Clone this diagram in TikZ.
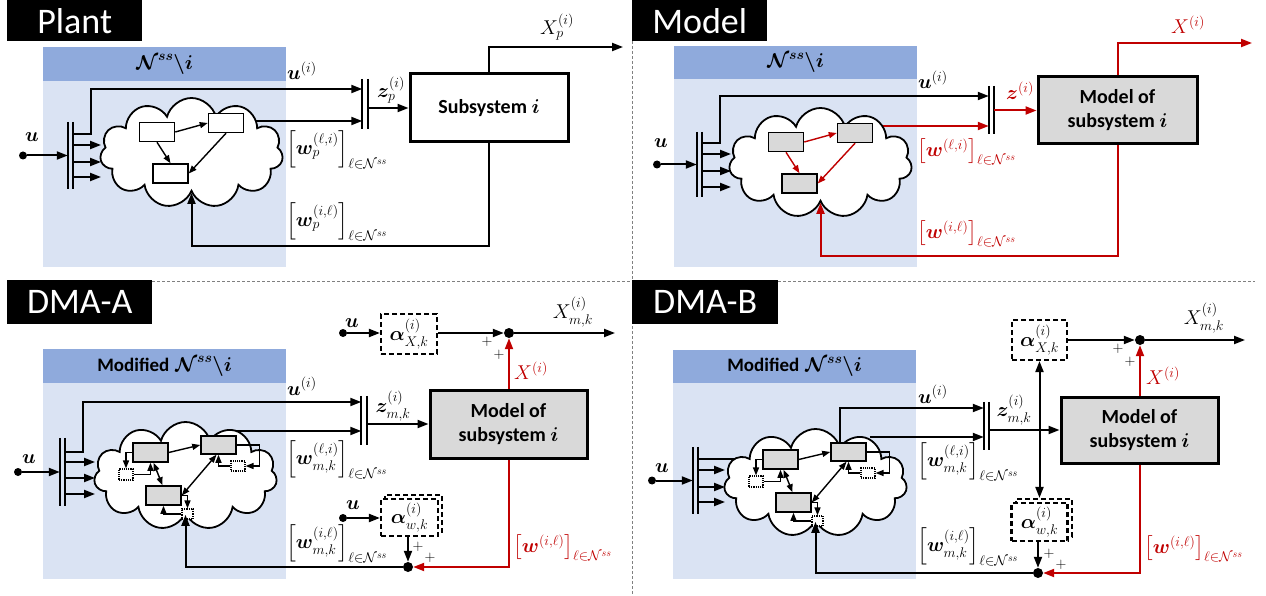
\documentclass[tikz,border=0pt]{standalone}
\usepackage{fix-cm}
\usepackage{amsmath,bm}
\usepackage{fontspec}
\setsansfont{Carlito}
\usetikzlibrary{arrows.meta,shapes.symbols,calc}
\definecolor{myred}{HTML}{C00000}
\definecolor{hdrblue}{HTML}{8FAADC}
\definecolor{bodyblue}{HTML}{DAE3F3}
\definecolor{boxgray}{HTML}{D9D9D9}
\definecolor{divgray}{HTML}{808080}
\newcommand{\titlefont}{\sffamily\fontsize{36}{36}\selectfont}
\newcommand{\boxfont}{\sffamily\bfseries\fontsize{20}{24}\selectfont}
\newcommand{\hdrfont}{\sffamily\bfseries\fontsize{19}{22}\selectfont}
\newcommand{\mathfont}{\fontsize{20}{22}\selectfont}
\newcommand{\plusfont}{\fontsize{15}{15}\selectfont}
\newcommand{\Nss}{\mathcal{N}^{ss}}
\tikzset{
 ln/.style={line width=2pt},
 arr/.style={ln, -{Triangle[length=11pt,width=8pt]}},
 rarr/.style={arr, myred},
 darr/.style={ln, {Triangle[length=11pt,width=8pt]}-{Triangle[length=11pt,width=8pt]}},
 sarr/.style={line width=1.4pt, -{Triangle[length=8pt,width=6pt]}},
 sdarr/.style={line width=1.4pt, {Triangle[length=8pt,width=6pt]}-{Triangle[length=8pt,width=6pt]}},
 ttl/.style={fill=black, text=white, font=\titlefont, inner sep=0pt, anchor=north west},
 panel/.style={fill=bodyblue, inner sep=0pt, anchor=north west},
 panelhdr/.style={fill=hdrblue, inner sep=0pt, anchor=north west, font=\mathfont},
 bigbox/.style={draw, line width=3pt, inner sep=0pt, font=\boxfont, align=center},
 inbox/.style={draw, line width=1.5pt, minimum width=35pt, minimum height=19pt, inner sep=0pt},
 dbox/.style={draw, densely dotted, line width=1.2pt, fill=white, inner sep=0pt},
 abox/.style={draw, dash pattern=on 5pt off 3pt, line width=2.2pt, fill=white, inner sep=0pt, font=\mathfont},
 sumdot/.style={circle, fill, inner sep=0pt, minimum size=10pt},
 indot/.style={circle, fill, inner sep=0pt, minimum size=8pt},
 bus/.style={inner sep=0pt, minimum width=5pt, minimum height=#1},
 lab/.style={font=\mathfont, inner sep=0pt},
 plus/.style={font=\plusfont, inner sep=0pt},
 cloudn/.style={cloud, cloud puffs=11, cloud ignores aspect, draw, line width=1.8pt, fill=white, inner sep=0pt},
 divider/.style={divgray, line width=1pt, dash pattern=on 3pt off 2pt},
}
\newcommand{\topnet}[4]{%
 \begin{scope}[shift={#2}]
  \node[cloudn, minimum width=183pt, minimum height=110pt] (#1-cloud) at (191.5,153) {};
  \node[inbox, fill=#3] (#1-b1) at (157,132) {};
  \node[inbox, fill=#3] (#1-b2) at (226,123) {};
  \node[inbox, fill=#3] (#1-b3) at (170.5,173.5) {};
  \draw[sarr, #4] (#1-b1.east) -- (#1-b2.west);
  \draw[sarr, #4] (#1-b1.south) -- (#1-b3.north);
  \draw[sarr, #4] (#1-b2.south) -- (#1-b3.east);
 \end{scope}}
\newcommand{\dmanet}[2]{%
 \begin{scope}[shift={#2}]
  \node[cloudn, minimum width=183pt, minimum height=108pt] (#1-cloud) at (185.5,476) {};
  \node[inbox, fill=boxgray] (#1-b1) at (150.5,452.5) {};
  \node[inbox, fill=boxgray, minimum height=18pt] (#1-b2) at (218.5,445) {};
  \node[inbox, fill=boxgray] (#1-b3) at (163.5,495.5) {};
  \node[dbox, minimum width=14pt, minimum height=11pt] (#1-d1) at (126,474.5) {};
  \node[dbox, minimum width=14pt, minimum height=10pt] (#1-d2) at (238,466) {};
  \node[dbox, minimum width=11pt, minimum height=10pt] (#1-d3) at (187.5,514) {};
  \draw[sarr] (#1-b1.east) -- (#1-b2.west);
  \draw[sarr] (#1-b1.west) -| (#1-d1.north);
  \draw[sarr] (#1-d1.east) -| (#1-b1.south);
  \draw[sdarr] ($(#1-b1.south)+(3,0)$) -- ($(#1-b3.north)+(-1,0)$);
  \draw[sdarr] ($(#1-b2.south)+(-2,0)$) -- (#1-b3.east);
  \draw[sarr] (#1-b2.east) -- ++(23,0) |- (#1-d2.east);
  \draw[sarr] (#1-d2.west) -| (#1-b2.south);
  \draw[sarr] (#1-b3.east) -| (#1-d3.north);
  \draw[sarr] (#1-d3.west) -| (#1-b3.south);
 \end{scope}}
\begin{document}
\begin{tikzpicture}[x=1pt,y=-1pt]
\useasboundingbox (0,0) rectangle (1266,596);
% dividers
\draw[divider] (632,41) -- (632,596);
\draw[divider] (152,281) -- (632,281);
\draw[divider] (778,281) -- (1255,281);
% titles
\node[ttl, minimum width=135pt, minimum height=41pt] (P-title) at (7,0) {Plant};
\node[ttl, minimum width=135pt, minimum height=41pt] (M-title) at (632,0) {Model};
\node[ttl, minimum width=145pt, minimum height=44pt] (A-title) at (7,280) {DMA-A};
\node[ttl, minimum width=146pt, minimum height=44pt] (B-title) at (632,280) {DMA-B};
% panels
\node[panel, minimum width=243pt, minimum height=220pt] (P-panel) at (43,47) {};
\node[panelhdr, minimum width=243pt, minimum height=34pt] (P-hdr) at (43,47) {$\bm{\Nss\backslash i}$};
\node[panel, minimum width=243pt, minimum height=221pt] (M-panel) at (674,46) {};
\node[panelhdr, minimum width=243pt, minimum height=33pt] (M-hdr) at (674,46) {$\bm{\Nss\backslash i}$};
\node[panel, minimum width=243pt, minimum height=230pt] (A-panel) at (43,349) {};
\node[panelhdr, minimum width=243pt, minimum height=34pt] (A-hdr) at (43,349) {{\hdrfont Modified} $\bm{\Nss\backslash i}$};
\node[panel, minimum width=243pt, minimum height=229pt] (B-panel) at (673,350) {};
\node[panelhdr, minimum width=243pt, minimum height=33pt] (B-hdr) at (673,350) {{\hdrfont Modified} $\bm{\Nss\backslash i}$};

%%%%%%%%%%%%%%%% PLANT
\node[bus=67pt] (P-bus) at (70.5,155.5) {};
\draw[ln] (P-bus.north west) -- (P-bus.south west) (P-bus.north east) -- (P-bus.south east);
\node[bus=50pt] (P-zbus) at (365,104) {};
\draw[ln] (P-zbus.north west) -- (P-zbus.south west) (P-zbus.north east) -- (P-zbus.south east);
\node[bigbox, minimum width=158pt, minimum height=68pt] (P-sys) at (489,108) {Subsystem $\bm{i}$};
\node[indot] (P-u) at (23,155.5) {};
\node[lab, anchor=base] (P-ul) at (32,142) {$\bm{u}$};
\draw[arr] (250,121) -- (P-zbus.west |- 0,121);
\topnet{P}{(0,0)}{white}{black}
\draw[arr] (P-u) -- (P-bus.west);
\draw[arr] (P-bus.east |- 0,134) -| (91,89) -- (P-zbus.west |- 0,89);
\foreach \yy in {145,162,177} \draw[arr] (P-bus.east |- 0,\yy) -- (101,\yy);
\draw[arr] (P-zbus.east |- P-sys.west) -- (P-sys.west);
\coordinate (P-out) at (623,47);
\draw[arr] (P-sys.north) |- (P-out);
\draw[arr] (P-sys.south) |- (P-cloud.south |- 0,246) -- (P-cloud.south);
\node[lab, anchor=base west] (P-ui) at (287,80) {$\bm{u}^{(i)}$};
\node[lab, anchor=west] (P-w1) at (286,150) {$\left[\bm{w}_p^{(\ell,i)}\right]_{\ell\in\Nss}$};
\node[lab, anchor=west] (P-w2) at (286,222) {$\left[\bm{w}_p^{(i,\ell)}\right]_{\ell\in\Nss}$};
\node[lab] (P-zl) at (391,90) {$\bm{z}_p^{(i)}$};
\node[lab] (P-xl) at (557,27) {$X_p^{(i)}$};

%%%%%%%%%%%%%%%% MODEL
\node[bus=65pt] (M-bus) at (699.5,164.5) {};
\draw[ln] (M-bus.north west) -- (M-bus.south west) (M-bus.north east) -- (M-bus.south east);
\node[bus=48pt] (M-zbus) at (991.5,110) {};
\draw[ln] (M-zbus.north west) -- (M-zbus.south west) (M-zbus.north east) -- (M-zbus.south east);
\node[bigbox, fill=boxgray, minimum width=159pt, minimum height=67pt] (M-sys) at (1117.5,110.5) {Model of\\subsystem $\bm{i}$};
\node[indot] (M-u) at (657,164.5) {};
\node[lab, anchor=base] (M-ul) at (661,148) {$\bm{u}$};
\draw[rarr] (880,126) -- (M-zbus.west |- 0,126);
\topnet{M}{(629,10)}{boxgray}{myred}
\draw[arr] (M-u) -- (M-bus.west);
\draw[arr] (M-bus.east |- 0,143) -| (720,96) -- (M-zbus.west |- 0,96);
\foreach \yy in {154,171,187} \draw[arr] (M-bus.east |- 0,\yy) -- (731,\yy);
\draw[rarr] (M-zbus.east |- M-sys.west) -- (M-sys.west);
\coordinate (M-out) at (1252,43);
\draw[rarr] (M-sys.north) |- (M-out);
\draw[rarr] (M-sys.south) |- (M-cloud.south |- 0,256) -- (M-cloud.south);
\node[lab, anchor=base west] (M-ui) at (918,89) {$\bm{u}^{(i)}$};
\node[lab, anchor=west, myred] (M-w1) at (917,152) {$\left[\bm{w}^{(\ell,i)}\right]_{\ell\in\Nss}$};
\node[lab, anchor=west, myred] (M-w2) at (917,234) {$\left[\bm{w}^{(i,\ell)}\right]_{\ell\in\Nss}$};
\node[lab, myred] (M-zl) at (1020,91) {$\bm{z}^{(i)}$};
\node[lab, myred] (M-xl) at (1188,25) {$X^{(i)}$};

%%%%%%%%%%%%%%%% DMA-A
\node[bus=68pt] (A-bus) at (62.5,472) {};
\draw[ln] (A-bus.north west) -- (A-bus.south west) (A-bus.north east) -- (A-bus.south east);
\node[bus=49pt] (A-zbus) at (364,420.5) {};
\draw[ln] (A-zbus.north west) -- (A-zbus.south west) (A-zbus.north east) -- (A-zbus.south east);
\node[bigbox, fill=boxgray, minimum width=157pt, minimum height=68pt] (A-sys) at (508.5,424) {Model of\\subsystem $\bm{i}$};
\node[indot] (A-u) at (18,472) {};
\node[lab, anchor=base] (A-ul) at (29,463) {$\bm{u}$};
\draw[arr] (230,431) -- (A-zbus.west |- 0,431);
\dmanet{A}{(0,0)}
\draw[arr] (A-u) -- (A-bus.west);
\draw[arr] (A-bus.east |- 0,452) -| (83,402) -- (A-zbus.west |- 0,402);
\foreach \yy in {462,478,494} \draw[arr] (A-bus.east |- 0,\yy) -- (95,\yy);
\draw[arr] (A-zbus.east |- A-sys.west) -- (A-sys.west);
\node[sumdot] (A-sum) at (509,333) {};
\node[sumdot] (A-sum2) at (408,567) {};
\node[abox, minimum width=56pt, minimum height=40pt] (A-alphaX) at (409,334) {$\bm{\alpha}_{X,k}^{(i)}$};
\node[abox, minimum width=57pt, minimum height=37pt] (A-alphaWb) at (413.5,513.5) {};
\node[abox, minimum width=57pt, minimum height=37pt] (A-alphaW) at (409.5,517.5) {$\bm{\alpha}_{w,k}^{(i)}$};
\node[indot] (A-uX) at (343,333) {};
\node[lab, anchor=base] (A-uXl) at (352,327) {$\bm{u}$};
\node[indot] (A-uW) at (343,518) {};
\node[lab, anchor=base] (A-uWl) at (353,509) {$\bm{u}$};
\coordinate (A-out) at (615,333);
\draw[arr] (A-uX) -- (A-uX -| A-alphaX.west);
\draw[arr] (A-alphaX.east |- A-sum) -- (A-sum);
\draw[arr] (A-sum) -- (A-out);
\draw[rarr] (A-sum |- A-sys.north) -- (A-sum);
\draw[rarr] (A-sum |- A-sys.south) |- (A-sum2);
\draw[arr] (A-uW) -- (A-uW -| A-alphaW.west);
\draw[arr] (A-alphaW.south -| A-sum2) -- (A-sum2);
\draw[arr] (A-sum2) -| (A-cloud.south);
\node[plus] (A-p1) at (487,342) {+};
\node[plus] (A-p2) at (499,355) {+};
\node[plus] (A-p3) at (418,547) {+};
\node[plus] (A-p4) at (430,558) {+};
\node[lab] (A-xo) at (573,312) {$X_{m,k}^{(i)}$};
\node[lab, myred] (A-xl) at (531,371) {$X^{(i)}$};
\node[lab] (A-zl) at (393,406) {$\bm{z}_{m,k}^{(i)}$};
\node[lab, anchor=base west] (A-ui) at (287,395) {$\bm{u}^{(i)}$};
\node[lab, anchor=west] (A-w1) at (286,460) {$\left[\bm{w}_{m,k}^{(\ell,i)}\right]_{\ell\in\Nss}$};
\node[lab, anchor=west] (A-w2) at (286,544) {$\left[\bm{w}_{m,k}^{(i,\ell)}\right]_{\ell\in\Nss}$};
\node[lab, anchor=west, myred] (A-w3) at (513,548) {$\left[\bm{w}^{(i,\ell)}\right]_{\ell\in\Nss}$};

%%%%%%%%%%%%%%%% DMA-B
\node[bus=67pt] (B-bus) at (695.5,480.5) {};
\draw[ln] (B-bus.north west) -- (B-bus.south west) (B-bus.north east) -- (B-bus.south east);
\node[bus=48pt] (B-zbus) at (986.5,426) {};
\draw[ln] (B-zbus.north west) -- (B-zbus.south west) (B-zbus.north east) -- (B-zbus.south east);
\node[bigbox, fill=boxgray, minimum width=157pt, minimum height=66pt] (B-sys) at (1139.5,430) {Model of\\subsystem $\bm{i}$};
\node[indot] (B-u) at (652,480.5) {};
\node[lab, anchor=base] (B-ul) at (662,472) {$\bm{u}$};
\draw[ln] (B-bus.east |- 0,459) -- (760,459);
\draw[arr] (840,450) |- (B-zbus.west |- 0,408);
\draw[arr] (870,437) -- (B-zbus.west |- 0,437);
\dmanet{B}{(630,7)}
\draw[arr] (B-u) -- (B-bus.west);
\foreach \yy in {470,487,502} \draw[arr] (B-bus.east |- 0,\yy) -- (725,\yy);
\draw[arr] (B-zbus.east |- B-sys.west) -- (B-sys.west);
\node[sumdot] (B-sum) at (1140,340) {};
\node[sumdot] (B-sum2) at (1038,573) {};
\node[abox, minimum width=55pt, minimum height=40pt] (B-alphaX) at (1039.5,340) {$\bm{\alpha}_{X,k}^{(i)}$};
\node[abox, minimum width=56pt, minimum height=38pt] (B-alphaWb) at (1044,518) {};
\node[abox, minimum width=56pt, minimum height=38pt] (B-alphaW) at (1039.5,522) {$\bm{\alpha}_{w,k}^{(i)}$};
\coordinate (B-out) at (1245,340);
\draw[arr] (B-alphaX.east |- B-sum) -- (B-sum);
\draw[arr] (B-sum) -- (B-out);
\draw[darr] (B-alphaX.south) -- (B-alphaX.south |- B-alphaWb.north);
\draw[rarr] (B-sum |- B-sys.north) -- (B-sum);
\draw[rarr] (B-sum |- B-sys.south) |- (B-sum2);
\draw[arr] (B-alphaW.south -| B-sum2) -- (B-sum2);
\draw[arr] (B-sum2) -| (B-cloud.south);
\node[plus] (B-p1) at (1118,349) {+};
\node[plus] (B-p2) at (1130,362) {+};
\node[plus] (B-p3) at (1049,554) {+};
\node[plus] (B-p4) at (1061,565) {+};
\node[lab] (B-xo) at (1204,318) {$X_{m,k}^{(i)}$};
\node[lab, myred] (B-xl) at (1163,376) {$X^{(i)}$};
\node[lab] (B-zl) at (1014,410) {$\bm{z}_{m,k}^{(i)}$};
\node[lab, anchor=base west] (B-ui) at (918,403) {$\bm{u}^{(i)}$};
\node[lab, anchor=west] (B-w1) at (917,462) {$\left[\bm{w}_{m,k}^{(\ell,i)}\right]_{\ell\in\Nss}$};
\node[lab, anchor=west] (B-w2) at (917,547) {$\left[\bm{w}_{m,k}^{(i,\ell)}\right]_{\ell\in\Nss}$};
\node[lab, anchor=west, myred] (B-w3) at (1144,549) {$\left[\bm{w}^{(i,\ell)}\right]_{\ell\in\Nss}$};
\end{tikzpicture}
\end{document}
